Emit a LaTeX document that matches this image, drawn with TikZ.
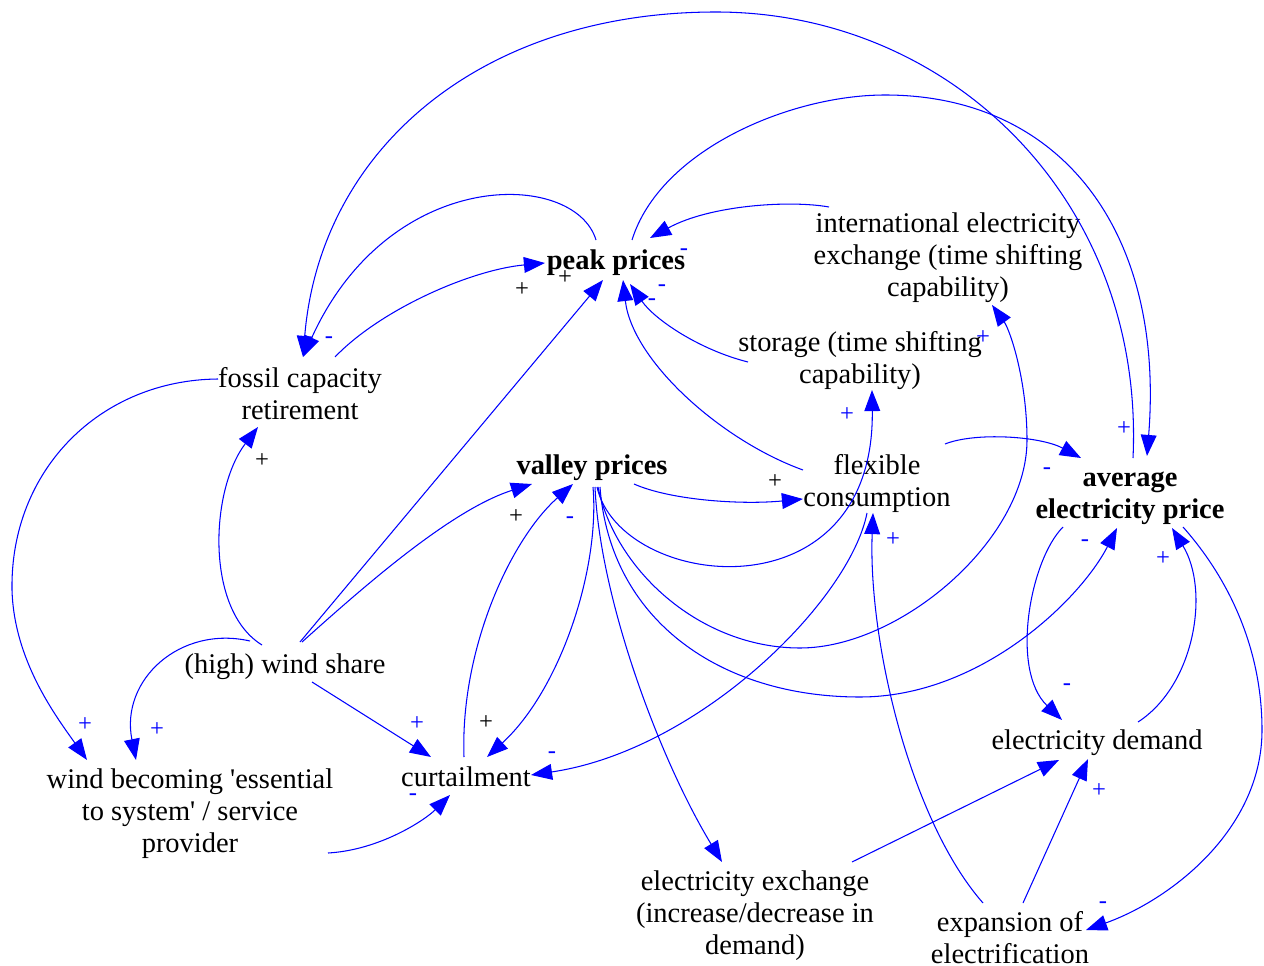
\documentclass[tikz,border=0pt]{standalone}
\usepackage{fontspec}
\setmainfont{Liberation Serif}
\usetikzlibrary{arrows.meta}
\newcommand\varfont{\fontsize{16.2}{18.2}\selectfont}
\newcommand\polfont{\fontsize{14}{14}\selectfont}
\tikzset{
  lnk/.style={draw=blue, line width=0.6pt, -{Triangle[length=12pt,width=9pt]}},
  var/.style={align=center, inner sep=0pt, font=\varfont, text depth=0pt},
  bvar/.style={var, font=\varfont\bfseries},
  pol/.style={inner sep=0pt, font=\polfont, text=blue},
  polk/.style={pol, text=black}
}
\begin{document}
\begin{tikzpicture}[x=0.02cm, y=-0.02cm]
\useasboundingbox (0,0) rectangle (1264,966);
% variables
\node[bvar] (peak) at (616,260) {peak prices};
\node[var] (intl) at (948,255) {international electricity\\exchange (time shifting\\capability)};
\node[var] (storage) at (860,357) {storage (time shifting\\capability)};
\node[var] (fossil) at (300,393) {fossil capacity\\retirement};
\node[bvar] (valley) at (592,465) {valley prices};
\node[var] (flex) at (877,480) {flexible\\consumption};
\node[bvar] (avg) at (1130,495) {average\\electricity price};
\node[var] (wind) at (285,664) {(high) wind share};
\node[var] (wbe) at (190,811) {wind becoming \textquotesingle essential\\to system\textquotesingle{} / service\\provider};
\node[var] (curt) at (466,777) {curtailment};
\node[var] (edem) at (1097,740) {electricity demand};
\node[var] (exch) at (755,913) {electricity exchange\\(increase/decrease in\\demand)};
\node[var] (elec) at (1010,937) {expansion of\\electrification};

% links
\draw[lnk] ([shift={(-20,-20)}]peak.center) .. controls (575,170) and (390,165) .. ([shift={(3,-36)}]fossil.center);
\draw[lnk] ([shift={(3,-37)}]avg.center) .. controls (1145,200) and (950,12) .. (716,12) .. controls (480,12) and (320,150) .. ([shift={(3,-36)}]fossil.center);
\draw[lnk] ([shift={(35,-36)}]fossil.center) .. controls (380,310) and (470,270) .. ([shift={(-71,3)}]peak.center);
\draw[lnk] ([shift={(15,-22)}]wind.center) -- ([shift={(-13,20)}]peak.center);
\draw[lnk] ([shift={(-119,-48)}]intl.center) .. controls (790,200) and (710,205) .. ([shift={(34,-22)}]peak.center);
\draw[lnk] ([shift={(-112,5)}]storage.center) .. controls (700,350) and (655,320) .. ([shift={(14,24)}]peak.center);
\draw[lnk] ([shift={(-74,-10)}]flex.center) .. controls (720,440) and (632,360) .. ([shift={(7,20)}]peak.center);
\draw[lnk] ([shift={(16,-20)}]peak.center) .. controls (660,150) and (790,95) .. (885,95) .. controls (1060,95) and (1165,230) .. ([shift={(17,-39)}]avg.center);
\draw[lnk] ([shift={(-23,-19)}]wind.center) .. controls (205,610) and (210,490) .. ([shift={(-42,34)}]fossil.center);
\draw[lnk] ([shift={(-82,-14)}]fossil.center) .. controls (100,380) and (10,470) .. (12,590) .. controls (14,660) and (55,715) .. ([shift={(-103,-51)}]wbe.center);
\draw[lnk] ([shift={(-35,-23)}]wind.center) .. controls (180,625) and (120,680) .. ([shift={(-54,-51)}]wbe.center);
\draw[lnk] ([shift={(17,-22)}]wind.center) .. controls (360,590) and (450,510) .. ([shift={(-60,19)}]valley.center);
\draw[lnk] ([shift={(27,18)}]wind.center) -- ([shift={(-35,-20)}]curt.center);
\draw[lnk] ([shift={(-2,-20)}]curt.center) .. controls (460,650) and (510,540) .. ([shift={(-19,19)}]valley.center);
\draw[lnk] ([shift={(1,22)}]valley.center) .. controls (600,570) and (560,690) .. ([shift={(21,-20)}]curt.center);
\draw[lnk] ([shift={(138,42)}]wbe.center) .. controls (380,850) and (425,820) .. ([shift={(-16,18)}]curt.center);
\draw[lnk] ([shift={(-10,33)}]flex.center) .. controls (850,600) and (700,750) .. ([shift={(65,-2)}]curt.center);
\draw[lnk] ([shift={(42,19)}]valley.center) .. controls (670,500) and (740,505) .. ([shift={(-74,19)}]flex.center);
\draw[lnk] ([shift={(5,22)}]valley.center) .. controls (620,590) and (875,620) .. ([shift={(12,33)}]storage.center);
\draw[lnk] ([shift={(6,22)}]valley.center) .. controls (615,570) and (700,648) .. (800,648) .. controls (900,648) and (1027,540) .. (1027,440) .. controls (1027,380) and (1010,330) .. ([shift={(44,50)}]intl.center);
\draw[lnk] ([shift={(8,22)}]valley.center) .. controls (610,620) and (720,697) .. (860,697) .. controls (980,697) and (1080,600) .. ([shift={(-13,33)}]avg.center);
\draw[lnk] ([shift={(3,22)}]valley.center) .. controls (600,600) and (660,760) .. ([shift={(-33,-51)}]exch.center);
\draw[lnk] ([shift={(68,-36)}]flex.center) .. controls (975,432) and (1040,436) .. ([shift={(-49,-37)}]avg.center);
\draw[lnk] ([shift={(-67,32)}]avg.center) .. controls (1030,560) and (1010,670) .. ([shift={(-35,-20)}]edem.center);
\draw[lnk] ([shift={(41,-18)}]edem.center) .. controls (1195,685) and (1210,590) .. ([shift={(42,33)}]avg.center);
\draw[lnk] ([shift={(53,32)}]avg.center) .. controls (1230,580) and (1262,650) .. (1262,730) .. controls (1262,830) and (1170,900) .. ([shift={(76,-7)}]elec.center);
\draw[lnk] ([shift={(13,-34)}]elec.center) -- ([shift={(-9,19)}]edem.center);
\draw[lnk] ([shift={(-27,-34)}]elec.center) .. controls (910,820) and (868,640) .. ([shift={(-4,33)}]flex.center);
\draw[lnk] ([shift={(97,-51)}]exch.center) -- ([shift={(-38,20)}]edem.center);

% polarities
\node[pol]  (p1)  at (329,340) {-};
\node[polk] (p3)  at (522,290) {+};
\node[polk] (p4)  at (565,278) {+};
\node[pol]  (p5)  at (684,252) {-};
\node[pol]  (p6)  at (662,288) {-};
\node[pol]  (p7)  at (652,302) {-};
\node[pol]  (p8)  at (1124,429) {+};
\node[polk] (p9)  at (262,461) {+};
\node[pol]  (p10) at (85,725) {+};
\node[pol]  (p11) at (157,730) {+};
\node[polk] (p12) at (516,517) {+};
\node[pol]  (p13) at (417,724) {+};
\node[pol]  (p14) at (570,520) {-};
\node[polk] (p15) at (486,723) {+};
\node[pol]  (p16) at (413,797) {-};
\node[pol]  (p17) at (552,755) {-};
\node[polk] (p18) at (775,482) {+};
\node[pol]  (p19) at (847,415) {+};
\node[pol]  (p20) at (983,338) {+};
\node[pol]  (p21) at (1085,543) {-};
\node[pol]  (p23) at (1047,471) {-};
\node[pol]  (p24) at (1067,687) {-};
\node[pol]  (p25) at (1163,559) {+};
\node[pol]  (p26) at (1103,905) {-};
\node[pol]  (p27) at (1099,791) {+};
\node[pol]  (p28) at (893,540) {+};
\end{tikzpicture}
\end{document}
